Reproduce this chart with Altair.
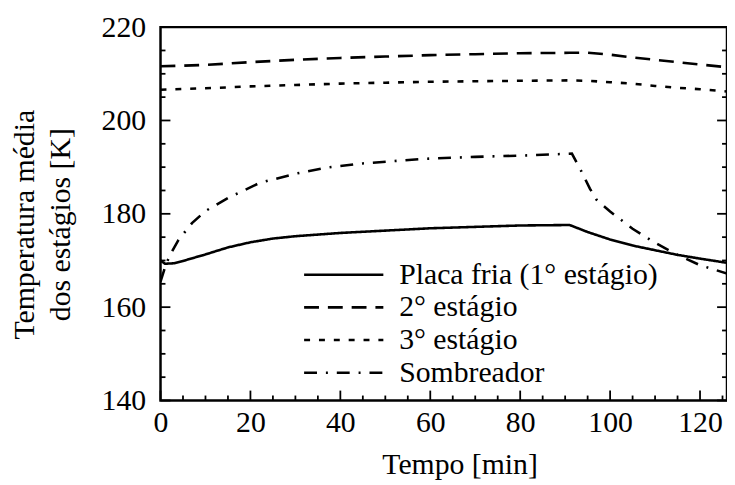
import altair as alt
import pandas as pd

series = ["Placa fria (1° estágio)", "2° estágio", "3° estágio", "Sombreador"]
dashes = [[1, 0], [15, 9], [6, 9], [13, 9, 2, 9]]

t_placa = [0, 1, 3, 5, 10, 15, 20, 25, 30, 40, 50, 60, 70, 80, 91, 95, 100, 105, 110, 115, 120, 126]
v_placa = [170.0, 169.3, 169.4, 169.9, 171.3, 172.8, 173.9, 174.7, 175.2, 175.9, 176.4, 176.9, 177.2, 177.5, 177.6, 176.1, 174.5, 173.2, 172.2, 171.2, 170.4, 169.5]

t_est2 = [0, 10, 20, 30, 40, 50, 60, 70, 80, 91, 95, 100, 105, 110, 115, 120, 126]
v_est2 = [211.6, 211.9, 212.5, 213.0, 213.4, 213.7, 214.0, 214.2, 214.4, 214.5, 214.5, 214.1, 213.5, 213.0, 212.5, 212.0, 211.4]

t_est3 = [0, 10, 20, 30, 40, 50, 60, 70, 80, 91, 95, 100, 105, 110, 115, 120, 126]
v_est3 = [206.6, 206.9, 207.3, 207.6, 207.9, 208.1, 208.3, 208.4, 208.5, 208.6, 208.5, 208.2, 207.9, 207.4, 207.0, 206.7, 206.2]

t_somb = [0, 1, 2, 4, 7, 10, 15, 22, 30, 37, 45, 59, 70, 81, 91.5, 93.5, 95.5, 97, 100, 105, 110, 115, 120, 126]
v_somb = [165.5, 168.5, 171.0, 174.4, 178.0, 180.6, 183.4, 186.6, 188.6, 189.9, 190.8, 191.8, 192.2, 192.5, 192.9, 189.3, 185.4, 183.0, 180.5, 176.8, 173.8, 171.2, 169.0, 167.2]

x_labels = [0, 20, 40, 60, 80, 100, 120]
y_labels = [140, 160, 180, 200, 220]
x_minor = [5, 10, 15, 25, 30, 35, 45, 50, 55, 65, 70, 75, 85, 90, 95, 105, 110, 115, 125]
y_minor = [145, 150, 155, 165, 170, 175, 185, 190, 195, 205, 210, 215]

rows = []
for name, ts, vs in zip(series, [t_placa, t_est2, t_est3, t_somb], [v_placa, v_est2, v_est3, v_somb]):
    for t, v in zip(ts, vs):
        rows.append({"serie": name, "t": t, "v": v})
df = pd.DataFrame(rows)

W, H = 572, 377
FONT = "Liberation Serif"
xscale = alt.Scale(domain=[0, 126], nice=False, zero=False)
yscale = alt.Scale(domain=[140, 220], nice=False, zero=False)

xaxis = alt.Axis(values=x_labels, title="Tempo [min]", labelPadding=7, labelFlush=False,
                 titleX=302, titleY=74, titleBaseline="alphabetic", titleAlign="center")
yaxis = alt.Axis(values=y_labels, title=["Temperatura média", "dos estágios [K]"], labelPadding=15,
                 labelFlush=False, titleAngle=270, titleX=-128, titleY=199, titleAlign="center",
                 titleBaseline="alphabetic", titleLineHeight=36)

lines = alt.Chart(df).mark_line(strokeWidth=2.6, color="black", clip=True).encode(
    x=alt.X("t:Q", scale=xscale, axis=xaxis),
    y=alt.Y("v:Q", scale=yscale, axis=yaxis),
    strokeDash=alt.StrokeDash("serie:N", scale=alt.Scale(domain=series, range=dashes), sort=series,
        legend=alt.Legend(orient="none", legendX=170, legendY=235, title=None,
                          symbolType="M-4,0H4", symbolSize=400, symbolStrokeWidth=2.6,
                          symbolStrokeColor="black", labelFont=FONT, labelFontSize=30,
                          labelColor="black", labelOffset=41, labelLimit=600,
                          rowPadding=3, padding=0)),
)

def ticks_y(vals, length, right=False):
    d = pd.DataFrame({"v": vals})
    x0 = W if right else 0
    x1 = W - length if right else length
    return alt.Chart(d).mark_rule(color="black", strokeWidth=1.8).encode(
        y=alt.Y("v:Q", scale=yscale, axis=yaxis), x=alt.value(x0), x2=alt.value(x1))

def ticks_x(vals, length):
    d = pd.DataFrame({"t": vals})
    return alt.Chart(d).mark_rule(color="black", strokeWidth=1.8).encode(
        x=alt.X("t:Q", scale=xscale, axis=xaxis), y=alt.value(H), y2=alt.value(H - length))

chart = alt.layer(
    lines,
    ticks_y(y_labels, 10), ticks_y(y_minor, 5),
    ticks_y(y_labels, 10, right=True), ticks_y(y_minor, 5, right=True),
    ticks_x(x_labels, 10), ticks_x(x_minor, 5),
).properties(
    width=W, height=H, background="white",
    autosize=alt.AutoSizeParams(type="none"),
    padding={"left": 154, "top": 17, "right": 0, "bottom": 82},
).configure_view(stroke="black", strokeWidth=2.5).configure_axis(
    labelFont=FONT, labelFontSize=30, labelColor="black", ticks=False, tickSize=0,
    domain=False, grid=False, titleFont=FONT, titleFontSize=30, titleFontWeight="normal",
    titleColor="black", labelOverlap=False,
)

chart.save("out.html", embed_options={"renderer": "svg", "actions": False})
